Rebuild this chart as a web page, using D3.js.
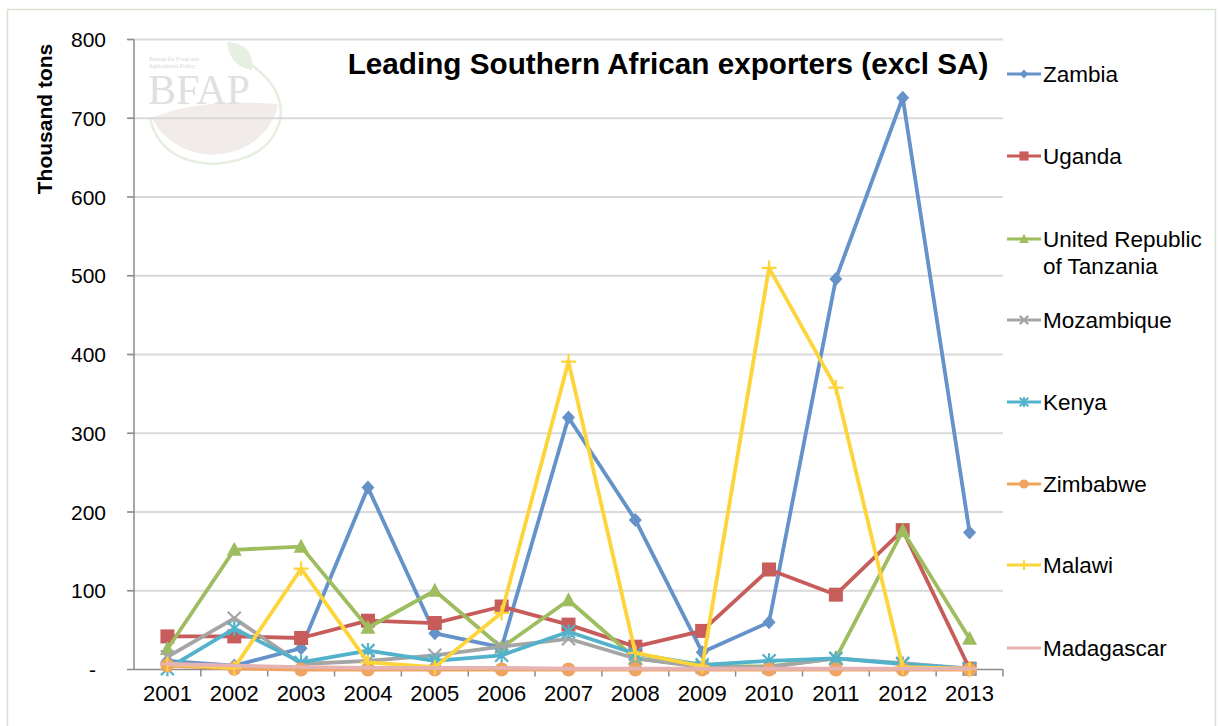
<!DOCTYPE html>
<html>
<head>
<meta charset="utf-8">
<script src="https://cdn.jsdelivr.net/npm/d3@7/dist/d3.min.js"></script>
<style>
  html, body { margin: 0; padding: 0; background: #ffffff; }
  svg { display: block; }
  text { font-family: "Liberation Sans", Arial, Helvetica, sans-serif; fill: #000; }
</style>
</head>
<body>
<svg id="chart" width="1220" height="726"></svg>
<script>
// ---------------- DATA ----------------
const years = ["2001","2002","2003","2004","2005","2006","2007","2008","2009","2010","2011","2012","2013"];
const seriesNames = ["Zambia","Uganda","United Republic of Tanzania","Mozambique","Kenya","Zimbabwe","Malawi","Madagascar"];
const zambia     = [11, 5, 27, 231, 46, 28, 320, 190, 22, 60, 496, 726, 174];
const uganda     = [42, 42, 40, 62, 59, 80, 57, 29, 49, 127, 95, 177, 1];
const tanzania   = [26, 152, 156, 53, 100, 28, 88, 14, 4, 4, 14, 176, 39];
const mozambique = [16, 65, 7, 11, 18, 29, 39, 14, 3, 3, 14, 8, 1];
const kenya      = [1, 52, 9, 24, 11, 18, 48, 20, 6, 11, 14, 7, 1];
const zimbabwe   = [5, 1, 0, 0, 0, 0, 0, 0, 0, 0, 0, 0, 0];
const malawi     = [7, 2, 128, 9, 3, 72, 391, 21, 4, 510, 358, 3, 1];
const madagascar = [7, 5, 3, 2, 2, 2, 1, 1, 1, 1, 1, 1, 1];
const yTicks = [0, 100, 200, 300, 400, 500, 600, 700, 800];
const yTickLabels = ["-", "100", "200", "300", "400", "500", "600", "700", "800"];
const chartTitle = "Leading Southern African exporters (excl SA)";
const yAxisTitle = "Thousand tons";

// ---------------- STYLE ----------------
const seriesValues = [zambia, uganda, tanzania, mozambique, kenya, zimbabwe, malawi, madagascar];
const colors = ["#6492C9", "#C65D5A", "#9DBD5F", "#A5A5A5", "#52B2CB", "#EFA462", "#FDD43A", "#E6B3B3"];
const markers = ["diamond", "square", "triangle", "x", "asterisk", "circle", "plus", "dash"];
const legendLines = [["Zambia"], ["Uganda"], ["United Republic", "of Tanzania"], ["Mozambique"], ["Kenya"], ["Zimbabwe"], ["Malawi"], ["Madagascar"]];
const legendY = [74, 156, 239, 320, 402, 484, 565, 648];

const svg = d3.select("#chart");

// frame
svg.append("rect").attr("x", 7.5).attr("y", 9.5).attr("width", 1208).attr("height", 740)
  .attr("fill", "none").attr("stroke", "#d6e2cd").attr("stroke-width", 1.5);

const x = d3.scaleBand().domain(years).range([134, 1003]).padding(0);
const xc = d => x(d) + x.bandwidth() / 2;
const y = d3.scaleLinear().domain([0, 800]).range([669.5, 39.5]);

// ---------------- LOGO (watermark) ----------------
const logo = svg.append("g");
// brown bowl in lower part of circle
logo.append("path")
  .attr("d", "M152,118 Q200,98 278,104 A66,60 0 0 1 152,118 Z")
  .attr("fill", "#f1ecea");
// green arc outline
logo.append("path")
  .attr("d", "M244,60 Q286,86 280,120 Q270,160 214,164 Q160,162 150,118")
  .attr("fill", "none").attr("stroke", "#e6eee0").attr("stroke-width", 2.5);
// leaf
logo.append("path")
  .attr("d", "M227,42 Q255,44 252,70 Q229,66 227,42 Z")
  .attr("fill", "#e7efe0");
logo.append("text").attr("x", 148).attr("y", 104)
  .style("font-family", "'Liberation Serif', 'DejaVu Serif', serif")
  .attr("font-size", 42).style("fill", "#e0e0e0").text("BFAP");
logo.append("text").attr("x", 149).attr("y", 61)
  .style("font-family", "'Liberation Serif', serif")
  .attr("font-size", 6).style("fill", "#d4d4d4").text("Bureau for Food and");
logo.append("text").attr("x", 149).attr("y", 68)
  .style("font-family", "'Liberation Serif', serif")
  .attr("font-size", 6).style("fill", "#d4d4d4").text("Agricultural Policy");

// ---------------- GRID & AXES ----------------
const grid = svg.append("g");
yTicks.filter(t => t > 0).forEach(t => {
  grid.append("line").attr("x1", 128).attr("x2", 1003).attr("y1", y(t)).attr("y2", y(t))
    .attr("stroke", "#d9d9d9").attr("stroke-width", 2);
});
svg.append("line").attr("x1", 134).attr("x2", 134).attr("y1", y(800)).attr("y2", y(0))
  .attr("stroke", "#8c8c8c").attr("stroke-width", 1.5);
yTicks.forEach(t => {
  svg.append("line").attr("x1", 127).attr("x2", 134).attr("y1", y(t)).attr("y2", y(t))
    .attr("stroke", "#8c8c8c").attr("stroke-width", 1.5);
});
yTicks.forEach((t, i) => {
  const lbl = yTickLabels[i];
  svg.append("text").attr("x", lbl === "-" ? 96 : 106).attr("y", y(t) + 7.5)
    .attr("text-anchor", "end").attr("font-size", 21).text(lbl);
});
svg.append("line").attr("x1", 134).attr("x2", 1003).attr("y1", y(0)).attr("y2", y(0))
  .attr("stroke", "#8c8c8c").attr("stroke-width", 1.5);
years.forEach(yr => {
  svg.append("line").attr("x1", x(yr) + x.bandwidth()).attr("x2", x(yr) + x.bandwidth())
    .attr("y1", y(0)).attr("y2", y(0) + 7).attr("stroke", "#8c8c8c").attr("stroke-width", 1.5);
  svg.append("text").attr("x", xc(yr)).attr("y", 701).attr("text-anchor", "middle")
    .attr("font-size", 22).text(yr);
});
svg.append("text").attr("transform", "translate(52,119) rotate(-90)").attr("text-anchor", "middle")
  .attr("font-size", 21).attr("font-weight", "bold").text(yAxisTitle);

// ---------------- MARKERS ----------------
function drawMarker(g, type, cx, cy, color, s) {
  switch (type) {
    case "diamond":
      g.append("path").attr("d", `M${cx},${cy - 7 * s} L${cx + 6.5 * s},${cy} L${cx},${cy + 7 * s} L${cx - 6.5 * s},${cy} Z`).attr("fill", color);
      break;
    case "square":
      g.append("rect").attr("x", cx - 7 * s).attr("y", cy - 7 * s).attr("width", 14 * s).attr("height", 14 * s).attr("fill", color);
      break;
    case "triangle":
      g.append("path").attr("d", `M${cx},${cy - 8 * s} L${cx + 7.5 * s},${cy + 6 * s} L${cx - 7.5 * s},${cy + 6 * s} Z`).attr("fill", color);
      break;
    case "x":
      g.append("path").attr("d", `M${cx - 6.5 * s},${cy - 6.5 * s} L${cx + 6.5 * s},${cy + 6.5 * s} M${cx - 6.5 * s},${cy + 6.5 * s} L${cx + 6.5 * s},${cy - 6.5 * s}`)
        .attr("stroke", color).attr("stroke-width", 2.2).attr("fill", "none");
      break;
    case "asterisk":
      g.append("path").attr("d", `M${cx - 6.5 * s},${cy - 6.5 * s} L${cx + 6.5 * s},${cy + 6.5 * s} M${cx - 6.5 * s},${cy + 6.5 * s} L${cx + 6.5 * s},${cy - 6.5 * s} M${cx},${cy - 7.5 * s} L${cx},${cy + 7.5 * s}`)
        .attr("stroke", color).attr("stroke-width", 2.2).attr("fill", "none");
      break;
    case "circle":
      g.append("circle").attr("cx", cx).attr("cy", cy).attr("r", 7 * s).attr("fill", color);
      break;
    case "plus":
      g.append("path").attr("d", `M${cx - 7.5 * s},${cy} L${cx + 7.5 * s},${cy} M${cx},${cy - 7.5 * s} L${cx},${cy + 7.5 * s}`)
        .attr("stroke", color).attr("stroke-width", 2.2).attr("fill", "none");
      break;
    case "dash":
      g.append("path").attr("d", `M${cx - 7 * s},${cy} L${cx + 7 * s},${cy}`)
        .attr("stroke", color).attr("stroke-width", 2.5).attr("fill", "none");
      break;
  }
}

// ---------------- SERIES ----------------
const line = d3.line().x((d, i) => xc(years[i])).y(d => y(d));
seriesValues.forEach((vals, si) => {
  const g = svg.append("g");
  g.append("path").datum(vals).attr("d", line).attr("fill", "none")
    .attr("stroke", colors[si]).attr("stroke-width", 3.8).attr("stroke-linejoin", "round");
  vals.forEach((v, i) => drawMarker(g, markers[si], xc(years[i]), y(v), colors[si], 1));
});

// ---------------- TITLE ----------------
svg.append("text").attr("x", 668).attr("y", 74).attr("text-anchor", "middle")
  .attr("font-size", 29.7).attr("font-weight", "bold").text(chartTitle);

// ---------------- LEGEND ----------------
const leg = svg.append("g");
seriesNames.forEach((name, i) => {
  const ly = legendY[i];
  leg.append("line").attr("x1", 1007).attr("x2", 1041).attr("y1", ly).attr("y2", ly)
    .attr("stroke", colors[i]).attr("stroke-width", 3);
  drawMarker(leg, markers[i], 1024, ly, colors[i], 0.65);
  legendLines[i].forEach((ln, k) => {
    leg.append("text").attr("x", 1043).attr("y", ly + 8 + k * 27).attr("font-size", 22.5).text(ln);
  });
});
</script>
</body>
</html>
